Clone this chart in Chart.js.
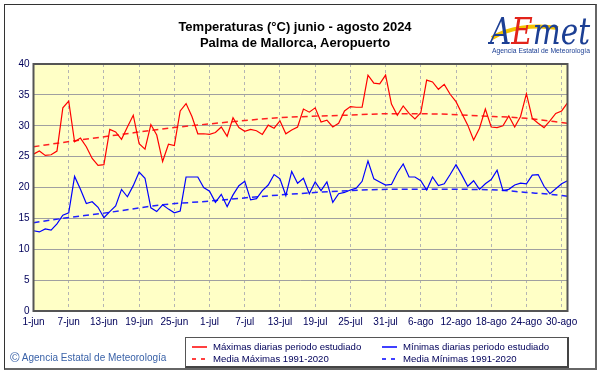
<!DOCTYPE html>
<html>
<head>
<meta charset="utf-8">
<script src="https://cdn.jsdelivr.net/npm/chart.js@4"></script>
<style>
  body { margin: 0; background: #fff; }
  #marco { position: relative; width: 601px; height: 374px; overflow: hidden; font-family: "Liberation Sans", Arial, sans-serif; }
  #borde { position: absolute; left: 4px; top: 4px; width: 590px; height: 363px; border-left: 1px solid #333; border-top: 1px solid #333; border-right: 2px solid #666; border-bottom: 2px solid #666; }
  #myChart { position: absolute; left: 0; top: 0; }
  #titulo { position: absolute; left: 95px; width: 400px; top: 19px; text-align: center; font-weight: bold; font-size: 13px; line-height: 16px; color: #000; }
  #logo { position: absolute; left: 488px; top: 4px; }
  #leyenda { position: absolute; left: 185px; top: 337px; width: 381px; height: 28px; border: 1px solid #555; border-right: 2px solid #444; border-bottom: 2px solid #444; font-size: 9.6px; color: #00005a; }
  .item { position: absolute; white-space: nowrap; }
  .item svg { vertical-align: middle; margin-right: 6px; }
  #copy { position: absolute; left: 10px; top: 350px; font-size: 10px; color: #3a62a8; white-space: nowrap; }
  #copy span { font-size: 13px; vertical-align: -1px; }
</style>
</head>
<body>
<div id="marco">
  <div id="borde"></div>
  <canvas id="myChart" width="601" height="374"></canvas>
  <div id="titulo">Temperaturas (°C) junio - agosto 2024<br>Palma de Mallorca, Aeropuerto</div>
  <svg id="logo" width="108" height="54" viewBox="0 0 108 54">
    <path d="M4 34 C 20 24, 45 20, 70 24" stroke="#f2c200" stroke-width="4" fill="none"/>
    <text x="2" y="40" font-family="DejaVu Serif" font-style="italic" font-size="38" textLength="100" lengthAdjust="spacingAndGlyphs"><tspan fill="#1c3f94">A</tspan><tspan fill="#e2231a">E</tspan><tspan fill="#1c3f94">met</tspan></text>
    <text x="4" y="49" font-family="Liberation Sans" font-size="6.4" fill="#1c3f94" textLength="98" lengthAdjust="spacingAndGlyphs">Agencia Estatal de Meteorología</text>
  </svg>
  <div id="leyenda">
    <div class="item" style="left:6px; top:3px"><svg width="15" height="4"><line x1="0" y1="2" x2="15" y2="2" stroke="#ff0000" stroke-width="1.5"/></svg>Máximas diarias periodo estudiado</div>
    <div class="item" style="left:6px; top:15px"><svg width="15" height="4"><line x1="0" y1="2" x2="15" y2="2" stroke="#ff0000" stroke-width="1.5" stroke-dasharray="4 5"/></svg>Media Máximas 1991-2020</div>
    <div class="item" style="left:196px; top:3px"><svg width="15" height="4"><line x1="0" y1="2" x2="15" y2="2" stroke="#0000ff" stroke-width="1.5"/></svg>Mínimas diarias periodo estudiado</div>
    <div class="item" style="left:196px; top:15px"><svg width="15" height="4"><line x1="0" y1="2" x2="15" y2="2" stroke="#0000ff" stroke-width="1.5" stroke-dasharray="4 5"/></svg>Media Mínimas 1991-2020</div>
  </div>
  <div id="copy"><span>©</span> Agencia Estatal de Meteorología</div>
</div>
<script>
// etiquetas del eje X (cada 6 dias desde el 1 de junio)
const etiquetasX = ['1-jun', '7-jun', '13-jun', '19-jun', '25-jun', '1-jul', '7-jul', '13-jul',
    '19-jul', '25-jul', '31-jul', '6-ago', '12-ago', '18-ago', '24-ago', '30-ago']

// maximas diarias 1-jun .. 31-ago
const maximas = [
    25.4, 25.9, 25.2, 25.3, 25.9, 32.9, 34.0, 27.4, 28.0, 26.6,
    24.7, 23.6, 23.7, 29.4, 29.0, 27.8, 29.8, 31.7, 27.1, 26.2,
    30.2, 28.5, 24.2, 27.0, 26.8, 32.4, 33.6, 31.5, 28.7, 28.7,
    28.6, 28.9, 29.8, 28.3, 31.3, 29.7, 29.1, 29.4, 29.2, 28.6,
    30.1, 29.6, 30.8, 28.7, 29.3, 29.8, 32.7, 32.2, 32.9, 30.6,
    30.9, 29.8, 30.4, 32.4, 33.1, 33.0, 33.0, 38.2, 36.9, 36.8,
    38.2, 33.5, 31.7, 33.2, 32.0, 31.1, 32.1, 37.4, 37.1, 35.9,
    36.7, 35.1, 33.9, 32.0, 30.1, 27.7, 29.6, 32.7, 29.8, 29.7,
    30.0, 31.6, 29.8, 31.5, 35.2, 31.2, 30.4, 29.7, 30.8, 32.0,
    32.4, 33.7
]

// minimas diarias 1-jun .. 31-ago
const minimas = [
    13.0, 12.8, 13.3, 13.1, 14.1, 15.5, 15.9, 21.8, 19.7, 17.4,
    17.7, 16.8, 15.1, 16.1, 17.0, 19.7, 18.5, 20.3, 22.5, 21.5,
    16.7, 16.1, 17.2, 16.5, 15.9, 16.2, 21.7, 21.7, 21.7, 20.0,
    19.4, 17.6, 18.9, 16.9, 18.8, 20.3, 21.0, 18.0, 18.2, 19.5,
    20.4, 22.1, 21.4, 18.7, 22.6, 20.7, 21.5, 19.0, 20.9, 19.5,
    20.9, 17.6, 19.0, 19.2, 19.6, 19.9, 21.0, 24.3, 21.4, 20.9,
    20.4, 20.5, 22.4, 23.8, 21.7, 21.7, 21.1, 19.6, 21.7, 20.3,
    20.6, 22.1, 23.7, 22.0, 20.2, 21.1, 19.7, 20.6, 21.3, 22.8,
    19.5, 19.7, 20.4, 20.7, 20.6, 22.0, 22.1, 20.2, 19.0, 19.8,
    20.6, 21.1
]

const mediaMaxDias = [0, 8, 15, 23, 30, 42, 53, 61, 69, 76, 84, 91]
const mediaMaxValores = [26.6, 27.7, 28.6, 29.6, 30.3, 31.3, 31.7, 31.95, 31.9, 31.6, 31.2, 30.4]
const mediaMinDias = [0, 5, 12, 22, 30, 37, 45, 54, 61, 72, 79, 84, 88, 91]
const mediaMinValores = [14.3, 15.0, 15.85, 17.2, 17.8, 18.4, 19.0, 19.5, 19.7, 19.7, 19.6, 19.2, 18.9, 18.6]

const ticksY = [0, 5, 10, 15, 20, 25, 30, 35, 40]

function Puntos(dias, valores) {
    return valores.map((v, i) => ({ x: dias ? dias[i] : i, y: v }))
}

const fondo = {
    id: 'fondo',
    beforeDraw(chart) {
        const a = chart.chartArea
        const ctx = chart.ctx
        ctx.save()
        ctx.fillStyle = '#ffffc6'
        ctx.fillRect(a.left, a.top, a.right - a.left, a.bottom - a.top)
        ctx.restore()
    },
    afterDraw(chart) {
        const a = chart.chartArea
        const ctx = chart.ctx
        ctx.save()
        ctx.strokeStyle = '#555'
        ctx.lineWidth = 2
        ctx.strokeRect(a.left, a.top, a.right - a.left, a.bottom - a.top)
        ctx.restore()
    }
}

const data = {
    datasets: [{
        label: 'Máximas diarias periodo estudiado',
        data: Puntos(null, maximas),
        borderColor: '#ff0000',
        borderWidth: 1.2,
        pointRadius: 0
    }, {
        label: 'Mínimas diarias periodo estudiado',
        data: Puntos(null, minimas),
        borderColor: '#0000ff',
        borderWidth: 1.2,
        pointRadius: 0
    }, {
        label: 'Media Máximas 1991-2020',
        data: Puntos(mediaMaxDias, mediaMaxValores),
        borderColor: '#ff2020',
        borderWidth: 1.5,
        borderDash: [6, 4],
        cubicInterpolationMode: 'monotone',
        pointRadius: 0
    }, {
        label: 'Media Mínimas 1991-2020',
        data: Puntos(mediaMinDias, mediaMinValores),
        borderColor: '#2020ff',
        borderWidth: 1.5,
        borderDash: [6, 4],
        cubicInterpolationMode: 'monotone',
        pointRadius: 0
    }]
}

const config = {
    type: 'line',
    data: data,
    options: {
        responsive: false,
        animation: false,
        layout: {
            padding: { top: 64, right: 33.5, bottom: 43, left: 0 }
        },
        scales: {
            x: {
                type: 'linear',
                min: 0,
                max: 91,
                afterFit: (s) => { s.height = 20 },
                ticks: {
                    stepSize: 6,
                    includeBounds: false,
                    maxRotation: 0,
                    autoSkip: false,
                    padding: 5,
                    color: '#00005a',
                    font: { family: 'Liberation Sans', size: 10 },
                    callback: (v) => etiquetasX[v / 6]
                },
                grid: {
                    color: '#b4b4b4',
                    drawTicks: false
                },
                border: { display: false, dash: [3, 3] }
            },
            y: {
                min: ticksY[0],
                max: ticksY[ticksY.length - 1],
                afterFit: (s) => { s.width = 33.5 },
                afterBuildTicks: (s) => { s.ticks = ticksY.map(v => ({ value: v })) },
                ticks: {
                    padding: 4,
                    color: '#00005a',
                    font: { family: 'Liberation Sans', size: 10 }
                },
                grid: {
                    color: '#a0a0a0',
                    drawTicks: false
                },
                border: { display: false }
            }
        },
        plugins: {
            legend: { display: false },
            tooltip: { enabled: false }
        }
    },
    plugins: [fondo]
}

const myChart = new Chart(document.getElementById('myChart'), config)
</script>
</body>
</html>
